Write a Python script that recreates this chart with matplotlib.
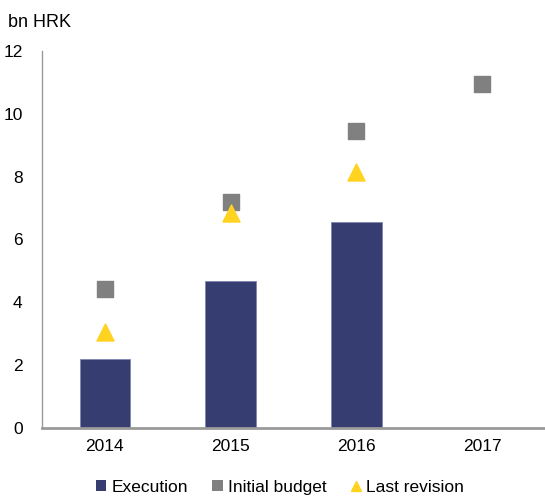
import matplotlib.pyplot as plt
from matplotlib.lines import Line2D
from matplotlib.patches import Patch

plt.rcParams['font.family'] = ['Liberation Sans', 'DejaVu Sans']

years = ['2014', '2015', '2016', '2017']
execution = [2.2, 4.68, 6.55, None]
initial_budget = [4.43, 7.2, 9.45, 10.95]
last_revision = [3.05, 6.85, 8.15, None]

navy = '#363d71'
grey = '#808080'
yellow = '#ffd320'

fig = plt.figure(figsize=(5.45, 4.98), dpi=100)
ax = fig.add_axes([0.077, 0.1406, 0.923, 0.757])

x = list(range(len(years)))
ex_x = [i for i, v in zip(x, execution) if v is not None]
ex_v = [v for v in execution if v is not None]
ax.bar(ex_x, ex_v, width=0.4, color=navy, edgecolor='#7f86b0', linewidth=0.6, zorder=2)
ax.scatter(x, initial_budget, marker='s', s=130, color=grey, zorder=3)
lr_x = [i for i, v in zip(x, last_revision) if v is not None]
lr_v = [v for v in last_revision if v is not None]
ax.scatter(lr_x, lr_v, marker='^', s=150, color=yellow, zorder=3)

ax.set_xlim(-0.5, 3.5)
ax.set_ylim(0, 12)
ax.set_yticks(range(0, 13, 2))
ax.set_xticks(x)
ax.set_xticklabels(years)
ax.tick_params(length=0, labelsize=12.5, colors='black')
ax.tick_params(axis='y', pad=14)
ax.tick_params(axis='x', pad=8)
for s in ['top', 'right']:
    ax.spines[s].set_visible(False)
ax.spines['left'].set_color('#9a9a9a')
ax.spines['left'].set_linewidth(1.0)
ax.spines['bottom'].set_color('#9a9a9a')
ax.spines['bottom'].set_linewidth(2.0)

fig.text(0.015, 0.955, 'bn HRK', fontsize=13, va='center')

handles = [
    Patch(facecolor=navy, label='Execution'),
    Patch(facecolor=grey, label='Initial budget'),
    Line2D([], [], marker='^', linestyle='none', color=yellow, markersize=7, label='Last revision'),
]
fig.legend(handles=handles, loc='center', bbox_to_anchor=(0.514, 0.022), ncol=3,
           frameon=False, fontsize=12.5, handlelength=0.6, handleheight=0.6,
           handletextpad=0.3, columnspacing=1.4)

fig.savefig('out.png', dpi=100)
